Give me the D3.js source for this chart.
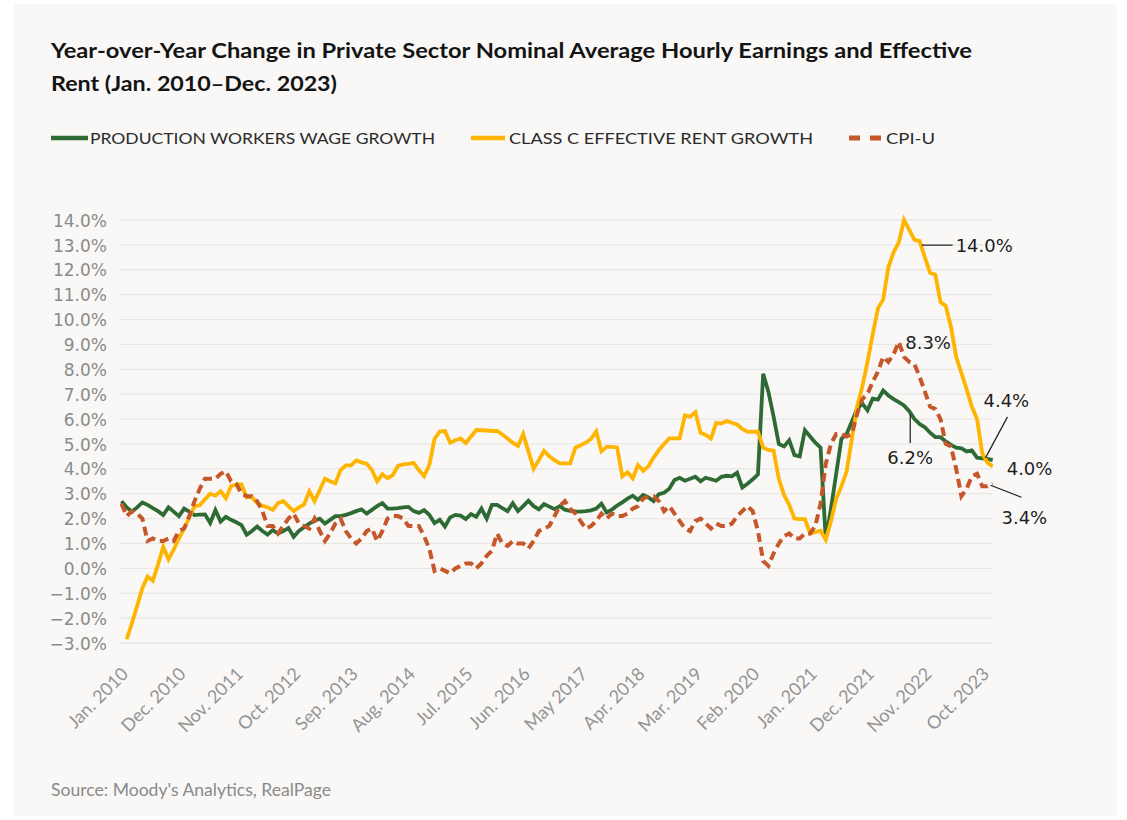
<!DOCTYPE html>
<html lang="en">
<head>
<meta charset="UTF-8">
<title>Wage and rent growth</title>
<style>
  body { margin: 0; background: #ffffff; }
  svg { display: block; }
</style>
</head>
<body>
<svg id="chart"></svg>
<script src="https://cdn.jsdelivr.net/npm/d3@7/dist/d3.min.js"></script>
<script>
// ---- data (monthly, Jan. 2010 - Dec. 2023) ----
const startMonth = new Date(2010, 0, 1);
const endMonth = new Date(2023, 11, 1);
const months = d3.timeMonth.range(startMonth, d3.timeMonth.offset(endMonth, 1));

const tickLabels = ["Jan. 2010", "Dec. 2010", "Nov. 2011", "Oct. 2012", "Sep. 2013", "Aug. 2014",
  "Jul. 2015", "Jun. 2016", "May 2017", "Apr. 2018", "Mar. 2019", "Feb. 2020", "Jan. 2021",
  "Dec. 2021", "Nov. 2022", "Oct. 2023"];
const yTicks = [-3, -2, -1, 0, 1, 2, 3, 4, 5, 6, 7, 8, 9, 10, 11, 12, 13, 14];

const wageGrowth = [
  2.70, 2.45, 2.28, 2.45, 2.65, 2.55, 2.42, 2.30, 2.14, 2.45, 2.28, 2.10,
  2.40, 2.28, 2.14, 2.16, 2.17, 1.82, 2.34, 1.88, 2.07, 1.95, 1.85, 1.74,
  1.35, 1.50, 1.68, 1.50, 1.36, 1.54, 1.40, 1.50, 1.62, 1.27, 1.50, 1.65,
  1.80, 1.92, 2.00, 1.80, 1.95, 2.10, 2.10, 2.15, 2.22, 2.30, 2.37, 2.20,
  2.35, 2.50, 2.62, 2.40, 2.40, 2.42, 2.45, 2.47, 2.30, 2.23, 2.34, 2.15,
  1.82, 1.95, 1.68, 2.05, 2.15, 2.12, 1.98, 2.18, 2.07, 2.40, 2.00, 2.55,
  2.55, 2.42, 2.30, 2.62, 2.30, 2.50, 2.72, 2.50, 2.37, 2.58, 2.48, 2.38,
  2.50, 2.36, 2.31, 2.29, 2.28, 2.30, 2.33, 2.40, 2.60, 2.25, 2.36, 2.52,
  2.65, 2.80, 2.92, 2.76, 2.95, 2.85, 2.70, 2.98, 3.04, 3.20, 3.55, 3.64,
  3.52, 3.60, 3.68, 3.50, 3.64, 3.58, 3.52, 3.68, 3.72, 3.70, 3.84, 3.25,
  3.40, 3.58, 3.78, 7.82, 7.10, 6.10, 5.00, 4.90, 5.15, 4.55, 4.50, 5.55,
  5.30, 5.05, 4.85, 1.15, 2.40, 3.80, 5.20, 5.40, 5.90, 6.40, 6.63, 6.35,
  6.82, 6.78, 7.15, 6.95, 6.80, 6.68, 6.55, 6.32, 6.00, 5.80, 5.67, 5.45,
  5.27, 5.27, 5.10, 4.96, 4.85, 4.82, 4.70, 4.74, 4.45, 4.42, 4.40, 4.35
];

const rentGrowth = [
  null, -2.85, -2.20, -1.50, -0.80, -0.33, -0.50, 0.15, 0.87, 0.36, 0.75, 1.20,
  1.60, 2.05, 2.50, 2.54, 2.78, 3.00, 2.92, 3.10, 2.82, 3.30, 3.37, 3.37,
  2.85, 2.87, 2.62, 2.52, 2.45, 2.35, 2.62, 2.71, 2.50, 2.30, 2.45, 2.57,
  3.10, 2.70, 3.15, 3.60, 3.50, 3.42, 3.95, 4.14, 4.14, 4.34, 4.26, 4.21,
  3.95, 3.50, 3.78, 3.62, 3.75, 4.12, 4.18, 4.20, 4.24, 3.95, 3.70, 4.15,
  5.20, 5.50, 5.52, 5.05, 5.15, 5.22, 5.04, 5.30, 5.56, 5.55, 5.54, 5.52,
  5.52, 5.38, 5.22, 5.05, 4.92, 5.40, 4.70, 4.00, 4.35, 4.72, 4.50, 4.35,
  4.22, 4.22, 4.22, 4.85, 4.95, 5.05, 5.20, 5.50, 4.70, 4.88, 4.88, 4.86,
  3.70, 3.86, 3.62, 4.15, 3.92, 4.10, 4.45, 4.75, 5.00, 5.22, 5.22, 5.22,
  6.15, 6.10, 6.28, 5.45, 5.36, 5.22, 5.85, 5.82, 5.92, 5.85, 5.78, 5.60,
  5.49, 5.49, 5.49, 4.85, 4.76, 4.73, 3.60, 2.95, 2.55, 2.00, 1.98, 1.98,
  1.40, 1.45, 1.51, 1.15, 1.90, 2.80, 3.30, 3.90, 5.20, 6.50, 7.30, 8.30,
  9.40, 10.45, 10.80, 12.10, 12.70, 13.10, 14.00, 13.60, 13.20, 13.15, 12.50, 11.88,
  11.80, 10.70, 10.55, 9.70, 8.50, 7.85, 7.20, 6.50, 6.00, 4.62, 4.25, 4.10
];

const cpiU = [
  2.6, 2.1, 2.3, 2.2, 2.0, 1.1, 1.2, 1.1, 1.1, 1.2, 1.1, 1.5,
  1.6, 2.1, 2.7, 3.2, 3.6, 3.6, 3.6, 3.8, 3.9, 3.5, 3.4, 3.0,
  2.9, 2.9, 2.7, 2.3, 1.7, 1.7, 1.4, 1.7, 2.0, 2.2, 1.8, 1.7,
  1.6, 2.0, 1.5, 1.1, 1.4, 1.8, 2.0, 1.5, 1.2, 1.0, 1.2, 1.5,
  1.6, 1.1, 1.5, 2.0, 2.1, 2.1, 2.0, 1.7, 1.7, 1.7, 1.3, 0.8,
  -0.1, 0.0, -0.1, -0.2, 0.0, 0.1, 0.2, 0.2, 0.0, 0.2, 0.5, 0.7,
  1.4, 1.0, 0.9, 1.1, 1.0, 1.0, 0.8, 1.1, 1.5, 1.6, 1.7, 2.1,
  2.5, 2.7, 2.4, 2.2, 1.9, 1.6, 1.7, 1.9, 2.2, 2.0, 2.2, 2.1,
  2.1, 2.2, 2.4, 2.5, 2.8, 2.9, 2.9, 2.7, 2.3, 2.5, 2.2, 1.9,
  1.6, 1.5, 1.9, 2.0, 1.8, 1.6, 1.8, 1.7, 1.7, 1.8, 2.1, 2.3,
  2.5, 2.3, 1.5, 0.3, 0.1, 0.6, 1.0, 1.3, 1.4, 1.2, 1.2, 1.4,
  1.4, 1.7, 2.6, 4.2, 5.0, 5.4, 5.4, 5.3, 5.4, 6.2, 6.8, 7.0,
  7.5, 7.9, 8.5, 8.3, 8.6, 9.1, 8.5, 8.3, 8.2, 7.7, 7.1, 6.5,
  6.4, 6.0, 5.0, 4.9, 4.0, 2.9, 3.2, 3.7, 3.8, 3.3, 3.3, 3.4
];

const seriesNames = ["PRODUCTION WORKERS WAGE GROWTH", "CLASS C EFFECTIVE RENT GROWTH", "CPI-U"];
const seriesColors = ["#2e6b34", "#ffb400", "#c5572a"];

// callouts: series index, month index, label, offsets
const callouts = [
  { s: 1, i: 153, text: "14.0%" },
  { s: 2, i: 151, text: "8.3%" },
  { s: 0, i: 151, text: "6.2%" },
  { s: 0, i: 166, text: "4.4%" },
  { s: 1, i: 167, text: "4.0%" },
  { s: 2, i: 166, text: "3.4%" }
];

// ---- layout ----
const W = 1127, H = 820;
const svg = d3.select("#chart").attr("width", W).attr("height", H);

svg.append("rect").attr("x", 14).attr("y", 4).attr("width", 1103).attr("height", 812)
  .attr("fill", "#f9f8f6");

// title
const title = svg.append("g").attr("font-family", "Lato, 'Open Sans', sans-serif")
  .attr("font-weight", 700).attr("font-size", 21).attr("fill", "#141414");
title.append("text").attr("x", 51).attr("y", 58)
  .attr("textLength", 921).attr("lengthAdjust", "spacingAndGlyphs")
  .text("Year-over-Year Change in Private Sector Nominal Average Hourly Earnings and Effective");
title.append("text").attr("x", 51).attr("y", 91)
  .attr("textLength", 286).attr("lengthAdjust", "spacingAndGlyphs")
  .text("Rent (Jan. 2010\u2013Dec. 2023)");

// legend
const legendItems = [
  { x: 51, w: 37, textX: 90, textW: 345 },
  { x: 471, w: 34, textX: 509, textW: 304 },
  { x: 849, w: 32, textX: 886, textW: 49 }
];
const legend = svg.append("g").attr("transform", "translate(0,138)");
legendItems.forEach((d, k) => {
  legend.append("line").attr("x1", d.x).attr("x2", d.x + d.w).attr("y1", 0).attr("y2", 0)
    .attr("stroke", seriesColors[k]).attr("stroke-width", k === 2 ? 5 : 4.5)
    .attr("stroke-dasharray", k === 2 ? "11,10" : null);
  legend.append("text").attr("x", d.textX).attr("y", 6)
    .attr("font-family", "Lato, sans-serif").attr("font-size", 16).attr("fill", "#2b2b2b")
    .attr("textLength", d.textW).attr("lengthAdjust", "spacingAndGlyphs")
    .text(seriesNames[k]);
});

// scales
const x = d3.scalePoint().domain(d3.range(months.length)).range([121.5, 992.7]);
const y = d3.scaleLinear().domain([-3, 14]).range([643, 220]);

// grid + y labels
const grid = svg.append("g");
grid.selectAll("line").data(yTicks).join("line")
  .attr("x1", 120).attr("x2", 993)
  .attr("y1", d => y(d)).attr("y2", d => y(d))
  .attr("stroke", "#e8e7e5").attr("stroke-width", 1.3);

const yAxis = svg.append("g").attr("transform", "translate(107,0)")
  .call(d3.axisLeft(y).tickValues(yTicks).tickSize(0).tickPadding(0)
    .tickFormat(d => d3.format(".1f")(d) + "%"));
yAxis.select(".domain").remove();
yAxis.attr("font-family", null).attr("font-size", null);
yAxis.selectAll("text").attr("font-family", "'DejaVu Sans', sans-serif")
  .attr("font-size", 17).attr("fill", "#8a8a8a").attr("dy", "0.36em");

// x labels (every 11 months)
const tickIdx = tickLabels.map((t, k) => k * 11);
const xAxis = svg.append("g");
xAxis.selectAll("text").data(tickIdx).join("text")
  .attr("transform", i => `translate(${x(i) + 8},675) rotate(-45)`)
  .attr("text-anchor", "end")
  .attr("font-family", "Lato, sans-serif").attr("font-size", 18).attr("fill", "#949494")
  .text((i, k) => tickLabels[k]);

// lines
const series = [wageGrowth, rentGrowth, cpiU];
const line = d3.line()
  .defined(d => d != null)
  .x((d, i) => x(i))
  .y(d => y(d));

svg.append("g").selectAll("path").data(series).join("path")
  .attr("d", d => line(d))
  .attr("fill", "none")
  .attr("stroke", (d, k) => seriesColors[k])
  .attr("stroke-width", (d, k) => k === 2 ? 4 : 3.8)
  .attr("stroke-linejoin", "miter")
  .attr("stroke-dasharray", (d, k) => k === 2 ? "9,5" : null);

// callouts
const notes = svg.append("g").attr("font-family", "'DejaVu Sans', sans-serif")
  .attr("font-size", 18).attr("fill", "#1e1e1e");
const leader = (x1, y1, x2, y2) => notes.append("line")
  .attr("x1", x1).attr("y1", y1).attr("x2", x2).attr("y2", y2)
  .attr("stroke", "#1e1e1e").attr("stroke-width", 1.2);

callouts.forEach(c => {
  const px = x(c.i), py = y(series[c.s][c.i]);
  if (c.text === "14.0%") {
    leader(px + 2, py + 4, px + 33, py + 4);
    notes.append("text").attr("x", px + 36).attr("y", py + 11).text(c.text);
  } else if (c.text === "8.3%") {
    notes.append("text").attr("x", px - 4).attr("y", py - 13).text(c.text);
  } else if (c.text === "6.2%") {
    leader(px + 1, py + 3, px + 1, py + 32);
    notes.append("text").attr("x", px + 1).attr("y", py + 53).attr("text-anchor", "middle").text(c.text);
  } else if (c.text === "4.4%") {
    leader(px - 2, py - 1, px + 20, py - 42);
    notes.append("text").attr("x", px - 4).attr("y", py - 52).text(c.text);
  } else if (c.text === "4.0%") {
    notes.append("text").attr("x", px + 14).attr("y", py + 9).text(c.text);
  } else {
    leader(px + 3, py - 1, px + 34, py + 11);
    notes.append("text").attr("x", px + 14).attr("y", py + 38).text(c.text);
  }
});

// source
svg.append("text").attr("x", 51).attr("y", 796)
  .attr("font-family", "Lato, sans-serif").attr("font-size", 16.5).attr("fill", "#8a8a8a")
  .attr("textLength", 280).attr("lengthAdjust", "spacingAndGlyphs")
  .text("Source: Moody's Analytics, RealPage");
</script>
</body>
</html>
